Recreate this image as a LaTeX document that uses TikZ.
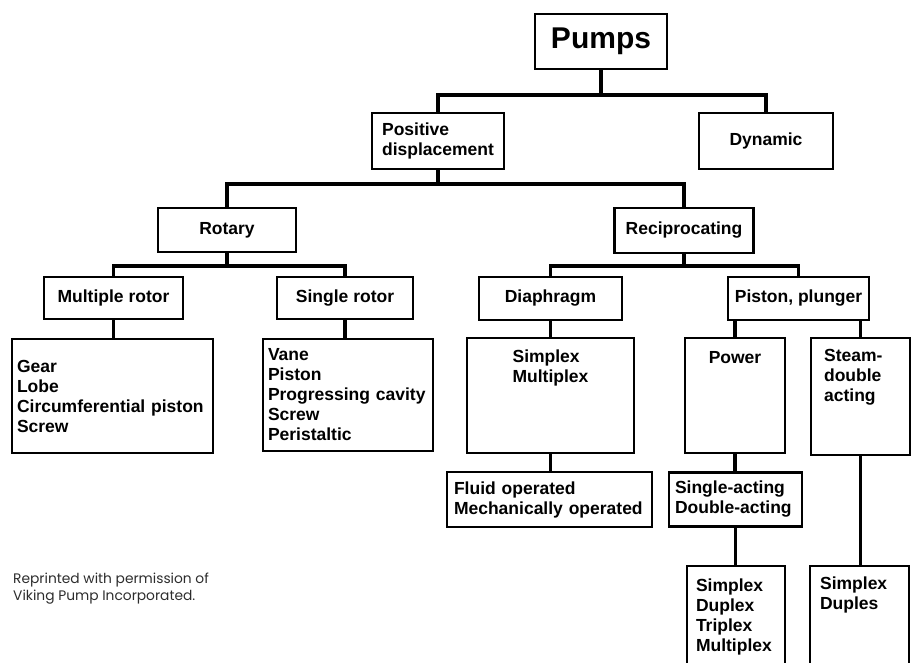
\documentclass[tikz,border=0pt]{standalone}
\usepackage{fontspec}
\setmainfont{Liberation Sans}
\newfontfamily\notefont{Poppins}
\usepackage{tikz}
\usetikzlibrary{positioning}
\definecolor{notegray}{RGB}{45,45,45}

\tikzset{
  box/.style={draw, line width=2.2pt, inner sep=5pt,
              font=\bfseries\fontsize{17.5}{20}\selectfont},
  lbl/.style={inner sep=0pt, align=left,
              font=\bfseries\fontsize{17.5}{20}\selectfont},
  conn/.style={line width=3.4pt},
}

\begin{document}
\begin{tikzpicture}[x=1pt, y=-1pt]
\useasboundingbox (0,0) rectangle (913,662);
\clip (0,0) rectangle (913,662);

\node[box, minimum width=132pt, minimum height=55pt,
      font=\bfseries\fontsize{30}{34}\selectfont] (pumps) at (601,41.5) {Pumps};

\node[box, minimum width=132pt, minimum height=56pt, align=left] (posdisp) at (438,141) {Positive\\displacement};
\node[box, minimum width=134pt, minimum height=56pt] (dynamic) at (766,141) {Dynamic};

\node[box, minimum width=138pt, minimum height=44pt] (rotary) at (227,230) {Rotary};
\node[box, minimum width=139pt, minimum height=45pt] (recip) at (684,230.5) {Reciprocating};

\node[box, minimum width=139pt, minimum height=42pt] (multirotor) at (113.5,298) {Multiple rotor};
\node[box, minimum width=136pt, minimum height=42pt] (singlerotor) at (345,298) {Single rotor};
\node[box, minimum width=143pt, minimum height=43pt] (diaphragm) at (550.5,298.5) {Diaphragm};
\node[box, minimum width=141pt, minimum height=43pt] (piston) at (798.5,298.5) {Piston, plunger};

\node[box, minimum height=114pt, text width=191pt, align=left] (gearlist) at (112.5,396)
  {Gear\\Lobe\\Circumferential piston\\Screw};
\node[box, minimum height=112pt, text width=160pt, align=left] (vanelist) at (348,395)
  {Vane\\Piston\\Progressing cavity\\Screw\\Peristaltic};
\node[box, minimum width=167pt, minimum height=115pt] (dsimplex) at (550.5,395.5) {};
\node[box, minimum width=100pt, minimum height=115pt] (power) at (735,395.5) {};
\node[box, minimum width=99pt, minimum height=117pt] (steam) at (860.5,396.5) {};
\node[lbl, below=13pt of dsimplex.north] (dsimplextxt) {Simplex\\Multiplex};
\node[lbl, below=14pt of power.north] (powertxt) {Power};
\node[lbl, below right=12pt and 14pt of steam.north west] (steamtxt) {Steam-\\double\\acting};

\node[box, minimum height=55pt, text width=191pt, inner xsep=7pt, align=left] (fluid) at (549.5,499.5)
  {Fluid operated\\Mechanically operated};
\node[box, minimum height=54pt, text width=121pt, inner xsep=6pt, align=left] (acting) at (735.5,499.5)
  {Single-acting\\Double-acting};

\node[box, minimum height=102pt, text width=80pt, inner xsep=9pt, align=left] (pluglist) at (736,617)
  {Simplex\\Duplex\\Triplex\\Multiplex};
\node[box, minimum width=99pt, minimum height=120pt] (steamlist) at (859.5,626) {};
\node[lbl, below right=12pt and 11pt of steamlist.north west] (steamlisttxt) {Simplex\\Duples};

\node[anchor=north west, align=left, inner sep=0pt, text=notegray,
      font=\notefont\fontsize{13.8}{17}\selectfont] (credit) at (13,573)
  {Reprinted with permission of\\Viking Pump Incorporated.};

\coordinate (bar1) at (0,95);
\coordinate (bar2) at (0,184);
\coordinate (bar3) at (0,266);

\draw[conn] (pumps.south) -- (pumps.south |- bar1);
\draw[conn] (posdisp.north) |- (dynamic.north |- bar1) -- (dynamic.north);
\draw[conn] (posdisp.south) -- (posdisp.south |- bar2);
\draw[conn] (rotary.north) |- (recip.north |- bar2) -- (recip.north);
\draw[conn] (rotary.south) -- (rotary.south |- bar3);
\draw[conn] (multirotor.north) |- (singlerotor.north |- bar3) -- (singlerotor.north);
\draw[conn] (recip.south) -- (recip.south |- bar3);
\draw[conn] (diaphragm.north) |- (piston.north |- bar3) -- (piston.north);
\draw[conn] (multirotor.south) -- (multirotor.south |- gearlist.north);
\draw[conn] (singlerotor.south) -- (singlerotor.south |- vanelist.north);
\draw[conn] (diaphragm.south) -- (diaphragm.south |- dsimplex.north);
\draw[conn] (piston.south -| power.north) -- (power.north);
\draw[conn] (piston.south -| steam.north) -- (steam.north);
\draw[conn] (dsimplex.south) -- (dsimplex.south |- fluid.north);
\draw[conn] (power.south) -- (power.south |- acting.north);
\draw[conn] (acting.south) -- (acting.south |- pluglist.north);
\draw[conn] (steam.south) -- (steam.south |- steamlist.north);
\end{tikzpicture}
\end{document}
